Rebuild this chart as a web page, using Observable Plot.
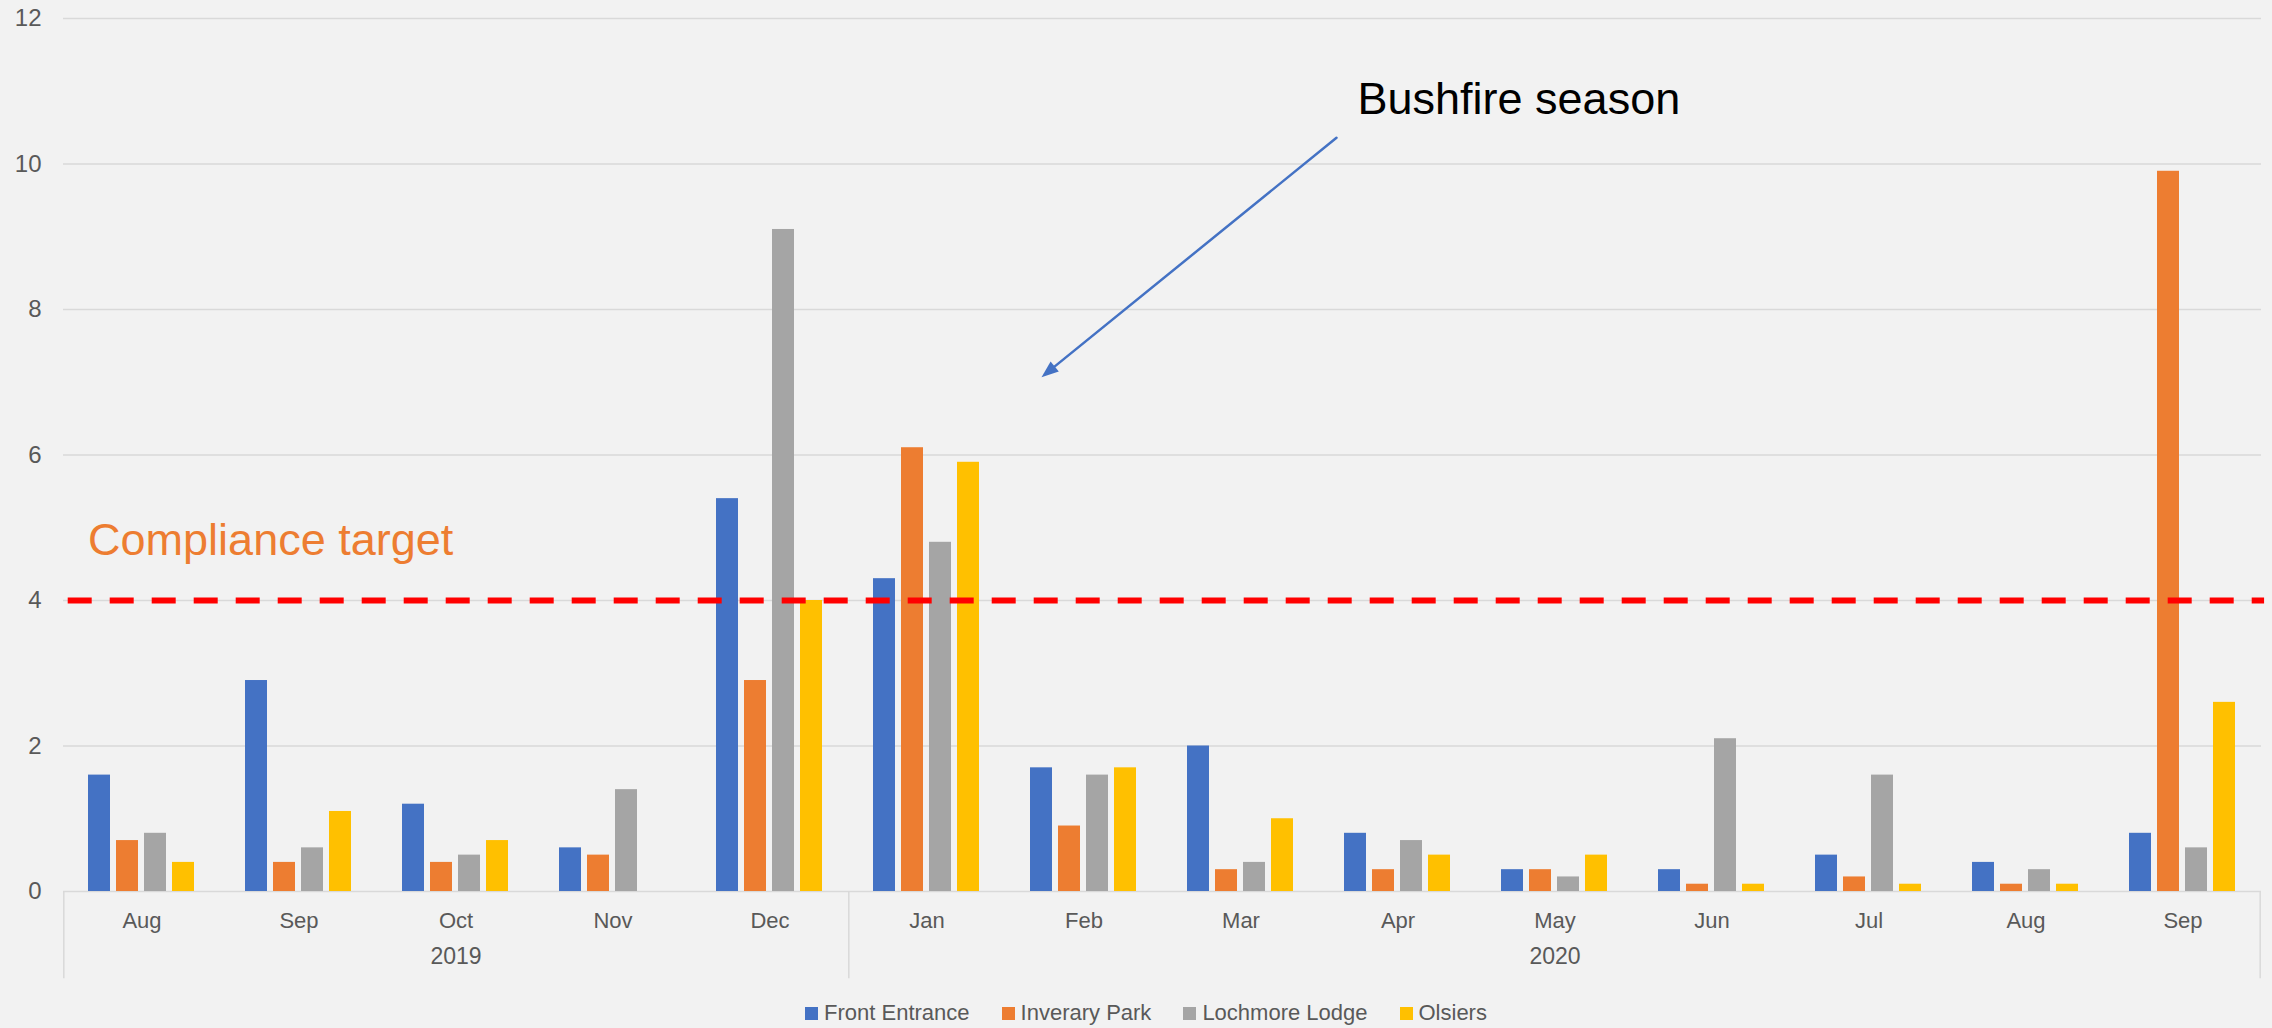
<!DOCTYPE html>
<html>
<head>
<meta charset="utf-8">
<script src="https://cdn.jsdelivr.net/npm/d3@7"></script>
<script src="https://cdn.jsdelivr.net/npm/@observablehq/plot@0.6"></script>
<style>
  html, body { margin: 0; padding: 0; background: #f2f2f2; }
  #chart svg { display: block; }
  #legend {
    display: flex; justify-content: center; padding-left: 20px; padding-top: 11px;
    font: 22px "Liberation Sans", Arial, sans-serif; color: #595959; line-height: 24px;
  }
  #legend .item { display: flex; align-items: center; margin: 0 16px; }
  #legend .sw { width: 13px; height: 13px; margin-right: 6px; }
</style>
</head>
<body>
<div id="chart"></div>
<div id="legend"></div>
<script>
// ---- data ----
const months = ["Aug","Sep","Oct","Nov","Dec","Jan","Feb","Mar","Apr","May","Jun","Jul","Aug","Sep"];
const years  = ["2019","2019","2019","2019","2019","2020","2020","2020","2020","2020","2020","2020","2020","2020"];
const sites = ["Front Entrance","Inverary Park","Lochmore Lodge","Olsiers"];
const siteColors = ["#4472C4","#ED7D31","#A5A5A5","#FFC000"];
const frontEntrance = [1.6, 2.9, 1.2, 0.6, 5.4, 4.3, 1.7, 2.0, 0.8, 0.3, 0.3, 0.5, 0.4, 0.8];
const inveraryPark  = [0.7, 0.4, 0.4, 0.5, 2.9, 6.1, 0.9, 0.3, 0.3, 0.3, 0.1, 0.2, 0.1, 9.9];
const lochmoreLodge = [0.8, 0.6, 0.5, 1.4, 9.1, 4.8, 1.6, 0.4, 0.7, 0.2, 2.1, 1.6, 0.3, 0.6];
const olsiers       = [0.4, 1.1, 0.7, null, 4.0, 5.9, 1.7, 1.0, 0.5, 0.5, 0.1, 0.1, 0.1, 2.6];
const yTicks = [0, 2, 4, 6, 8, 10, 12];
const targetValue = 4;
const targetLabel = "Compliance target";
const annotationText = "Bushfire season";
const annotationFrom = {month: "Apr", year: "2020", value: 10.36};
const annotationTo   = {month: "Feb", year: "2020", value: 7.07};
const annotationLabelValue = 10.88;
const targetLabelValue = 4.83;

// ---- derived tables ----
const keys = months.map((m, i) => `${years[i]}-${m}`);
const seriesValues = [frontEntrance, inveraryPark, lochmoreLodge, olsiers];
const rows = [];
keys.forEach((k, i) => sites.forEach((s, j) => rows.push({key: k, site: s, value: seriesValues[j][i]})));
const yearList = [...new Set(years)];
const yearLabels = yearList.map(y => {
  const idx = years.map((v, i) => v === y ? i : -1).filter(i => i >= 0);
  return {year: y, key: keys[idx[Math.floor(idx.length / 2)]], first: keys[idx[0]], last: keys[idx[idx.length - 1]]};
});
const leftSeps = yearLabels.map(d => ({key: d.first, site: sites[0]}));
const rightSeps = [{key: keys[keys.length - 1], site: sites[sites.length - 1]}];
const annot = [{
  text: annotationText, site: sites[0],
  fromKey: `${annotationFrom.year}-${annotationFrom.month}`, toKey: `${annotationTo.year}-${annotationTo.month}`,
  y1: annotationFrom.value, y2: annotationTo.value, labelY: annotationLabelValue
}];
const targetAnnot = [{key: keys[0], site: sites[0], y: targetLabelValue, text: targetLabel}];
const targetLine = [{key: keys[0], y: targetValue}];

// ---- layout ----
const W = 2272, H = 990, ML = 62, MR = 11, MT = 18, MB = 99;
const facetW = (W - ML - MR) / keys.length;
const padIn = 0.2, padOut = 0.85;
const step = facetW / (sites.length - padIn + 2 * padOut);
const bandW = step * (1 - padIn);
const edgeOffset = padOut * step + bandW / 2; // from outer bar centre to facet edge
const grey = "#d9d9d9";
const arrowColor = "#4472C4";

const chart = Plot.plot({
  width: W, height: H,
  marginLeft: ML, marginRight: MR, marginTop: MT, marginBottom: MB,
  style: {background: "#f2f2f2", fontFamily: '"Liberation Sans", Arial, sans-serif', fontSize: "22px", color: "#595959", overflow: "visible"},
  fx: {domain: keys, padding: 0},
  x: {domain: sites, paddingInner: padIn, paddingOuter: padOut, axis: null},
  y: {domain: [0, 12]},
  color: {domain: sites, range: siteColors},
  marks: [
    Plot.ruleY(yTicks, {stroke: grey, strokeWidth: 1.5}),
    Plot.axisY({ticks: yTicks, tickSize: 0, tickPadding: 22, fontSize: 24, label: null}),
    Plot.axisFx({anchor: "bottom", tickSize: 0, tickPadding: 21, fontSize: 22, label: null, tickFormat: k => k.split("-")[1]}),
    Plot.text(yearLabels, {fx: "key", text: "year", frameAnchor: "bottom", dy: 72, fontSize: 23, fill: "#595959"}),
    Plot.ruleX(leftSeps, {fx: "key", x: "site", y1: 0, y2: -1.2, dx: -edgeOffset, stroke: grey, strokeWidth: 1.5}),
    Plot.ruleX(rightSeps, {fx: "key", x: "site", y1: 0, y2: -1.2, dx: edgeOffset, stroke: grey, strokeWidth: 1.5}),
    Plot.barY(rows, {fx: "key", x: "site", y1: 0, y2: "value", fill: "site"}),
    // target line: drawn from the first facet, extended across all facets through the fx scale
    Plot.ruleY(targetLine, {
      fx: "key", y: "y", stroke: "#FF0000", strokeWidth: 6, strokeDasharray: "24,18", strokeDashoffset: 37.3,
      render(index, scales, values, dimensions, context, next) {
        const g = next(index, scales, values, dimensions, context);
        const span = scales.fx ? scales.fx(keys[keys.length - 1]) - scales.fx(keys[0]) + facetW : facetW * keys.length;
        d3.select(g).selectAll("line").attr("x2", function() { return +this.getAttribute("x1") + span + 3; });
        return g;
      }
    }),
    Plot.text(targetAnnot, {fx: "key", x: "site", y: "y", text: "text", textAnchor: "start", dx: -bandW / 2, fontSize: 45, fill: "#ED7D31"}),
    Plot.text(annot, {fx: "fromKey", x: "site", y: "labelY", text: "text", textAnchor: "start", dx: 2, fontSize: 45, fill: "#000000"}),
    Plot.arrow(annot, {
      fx: "toKey", x1: "site", x2: "site", y1: "y1", y2: "y2",
      stroke: arrowColor, strokeWidth: 2.5, headLength: 0, insetEnd: 8,
      render(index, scales, values, dimensions, context, next) {
        const shift = scales.fx ? scales.fx(annot[0].fromKey) - scales.fx(annot[0].toKey) : 2 * facetW;
        const x1 = Array.from(values.x1, v => v + shift - 19);
        const g = next(index, scales, {...values, x1}, dimensions, context);
        const sel = d3.select(g);
        for (const i of index) {
          const X2 = values.x2[i], Y2 = values.y2[i];
          const a = Math.atan2(Y2 - values.y1[i], X2 - x1[i]);
          const L = 17, w = 6.5;
          const bx = X2 - L * Math.cos(a), by = Y2 - L * Math.sin(a);
          const pts = [[X2, Y2], [bx - w * Math.sin(a), by + w * Math.cos(a)], [bx + w * Math.sin(a), by - w * Math.cos(a)]];
          sel.append("path").attr("d", "M" + pts.map(p => p.join(",")).join("L") + "Z").attr("fill", arrowColor).attr("stroke", "none");
        }
        return g;
      }
    })
  ]
});
document.getElementById("chart").append(chart);

// ---- legend ----
const legend = document.getElementById("legend");
sites.forEach((s, i) => {
  const item = document.createElement("div");
  item.className = "item";
  const sw = document.createElement("div");
  sw.className = "sw";
  sw.style.background = siteColors[i];
  const label = document.createElement("span");
  label.textContent = s;
  item.append(sw, label);
  legend.append(item);
});
</script>
</body>
</html>
